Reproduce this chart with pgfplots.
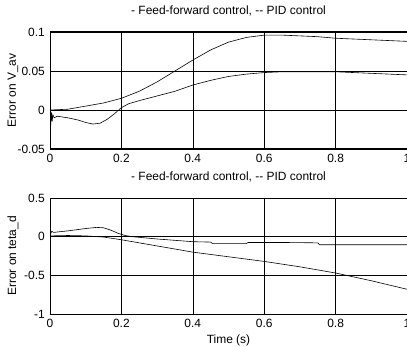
\documentclass[border=0pt]{standalone}
\usepackage{fontspec}
\setmainfont{Liberation Sans}
\usepackage{pgfplots}
\pgfplotsset{compat=1.18}
\begin{document}
\fontsize{12}{14}\selectfont
\begin{tikzpicture}
\pgfplotsset{
  myax/.style={
    scale only axis, width=357bp, xmin=0, xmax=1,
    grid=major, major grid style={black, line width=0.5pt},
    axis line style={line width=1pt},
    major tick length=0pt,
    xtick={0,0.2,0.4,0.6,0.8,1}, xticklabels={0,0.2,0.4,0.6,0.8,1},
    xticklabel style={anchor=north, inner sep=0pt, yshift=-5bp},
    yticklabel style={anchor=east, inner sep=0pt, xshift=-5bp},
    tick label style={font=\fontsize{12}{14}\selectfont},
    title style={at={(axis description cs:0.5,1)}, anchor=center, yshift=15bp, inner sep=0pt, font=\fontsize{12}{14}\selectfont},
    ylabel style={at={([xshift=-37bp]axis description cs:0,0.5)}, anchor=center, inner sep=0pt, font=\fontsize{12}{14}\selectfont},
    cycle list={{black, line width=0.6pt, mark=none}},
  }
}
\begin{axis}[myax, at={(50bp,198bp)}, anchor=south west, height=117bp,
  ymin=-0.05, ymax=0.1, ytick={-0.05,0,0.05,0.1}, yticklabels={-0.05,0,0.05,0.1},
  title={- Feed-forward control, -{}- PID control},
  ylabel={Error on V\_av}]
\addplot[black, line width=0.6pt, mark=none] coordinates {(0,0) (0.05,0.001) (0.1,0.005) (0.15,0.009) (0.2,0.015) (0.25,0.024) (0.3,0.036) (0.35,0.050) (0.4,0.064) (0.45,0.077) (0.5,0.087) (0.55,0.093) (0.6,0.096) (0.65,0.096) (0.7,0.095) (0.75,0.094) (0.8,0.092) (0.85,0.091) (0.9,0.090) (0.95,0.089) (1.0,0.088)};
\addplot[black, line width=0.6pt, mark=none] coordinates {(0,0) (0.002,-0.02) (0.004,-0.003) (0.006,-0.015) (0.008,-0.006) (0.012,-0.01) (0.02,-0.008) (0.05,-0.01) (0.08,-0.013) (0.1,-0.016) (0.12,-0.018) (0.14,-0.017) (0.16,-0.012) (0.18,-0.005) (0.2,0.003) (0.22,0.008) (0.25,0.012) (0.3,0.018) (0.35,0.024) (0.4,0.032) (0.45,0.038) (0.5,0.043) (0.55,0.046) (0.6,0.048) (0.65,0.049) (0.7,0.049) (0.8,0.049) (0.9,0.047) (1.0,0.045)};
\end{axis}
\begin{axis}[myax, at={(50bp,33bp)}, anchor=south west, height=116bp,
  ymin=-1, ymax=0.5, ytick={-1,-0.5,0,0.5}, yticklabels={-1,-0.5,0,0.5},
  title={- Feed-forward control, -{}- PID control},
  ylabel={Error on teta\_d},
  xlabel={Time (s)},
  xlabel style={at={([yshift=-26bp]axis description cs:0.5,0)}, anchor=center, inner sep=0pt, font=\fontsize{12}{14}\selectfont}]
\addplot[black, line width=0.6pt, mark=none] coordinates {(0,0.1) (0.002,0.04) (0.005,0.07) (0.01,0.055) (0.05,0.075) (0.1,0.105) (0.13,0.12) (0.15,0.115) (0.17,0.085) (0.19,0.045) (0.21,0.015) (0.23,0) (0.3,-0.03) (0.4,-0.065) (0.45,-0.07) (0.455,-0.09) (0.55,-0.09) (0.555,-0.075) (0.65,-0.075) (0.75,-0.08) (0.755,-0.105) (1.0,-0.105)};
\addplot[black, line width=0.6pt, mark=none] coordinates {(0,0.01) (0.05,0.015) (0.1,0.01) (0.15,-0.005) (0.2,-0.04) (0.3,-0.12) (0.4,-0.2) (0.5,-0.26) (0.6,-0.32) (0.7,-0.39) (0.8,-0.47) (0.9,-0.57) (1.0,-0.68)};
\end{axis}
\pgfresetboundingbox
\path[use as bounding box] (0,0) rectangle (407bp,347bp);
\end{tikzpicture}
\end{document}
